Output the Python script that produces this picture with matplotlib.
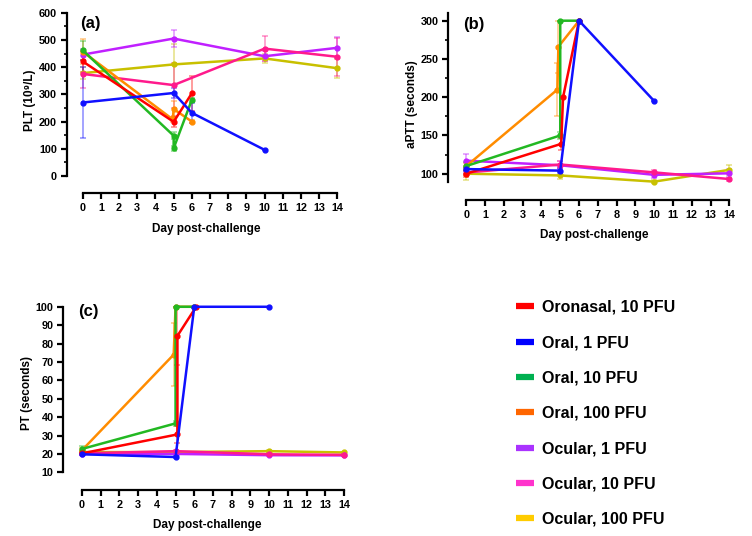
import matplotlib
matplotlib.use("Agg")
import matplotlib.pyplot as plt
from matplotlib.lines import Line2D
from matplotlib.ticker import FixedLocator

plt.rcParams['font.family'] = ['Liberation Sans', 'DejaVu Sans']
plt.rcParams['font.weight'] = 'bold'

groups = ["Oronasal, 10 PFU", "Oral, 1 PFU", "Oral, 10 PFU", "Oral, 100 PFU",
          "Ocular, 1 PFU", "Ocular, 10 PFU", "Ocular, 100 PFU"]
line_colors = ["#ff0000", "#1010ff", "#22b822", "#ff8c00", "#c020ff", "#ff1a8c", "#c8c000"]
legend_colors = ["#ff0000", "#0000ff", "#00b050", "#ff6600", "#aa33ff", "#ff33cc", "#ffcc00"]

# Panel (a) PLT (10^9/L)
plt_x = [[0, 5, 6], [0, 5, 6, 10], [0, 5, 5, 6], [0, 4.95, 5, 6],
         [0, 5, 10, 14], [0, 5, 10, 14], [0, 5, 10, 14]]
plt_y = [[421, 199, 304], [270, 305, 232, 96], [462, 148, 102, 280], [457, 208, 246, 200],
         [446, 505, 440, 471], [375, 334, 468, 438], [378, 410, 432, 396]]
plt_err = [[40, 20, 65], [130, 20, 38, 0], [35, 12, 10, 8], [45, 10, 30, 5],
           [20, 30, 18, 38], [53, 83, 45, 70], [22, 75, 15, 35]]

# Panel (b) aPTT (seconds)
aptt_x = [[0, 5.05, 5.15, 6], [0, 5, 6, 10], [0, 5, 5, 6], [0, 4.85, 4.9, 6],
          [0, 5, 10, 14], [0, 5, 10, 14], [0, 5, 10, 14]]
aptt_y = [[100, 139, 200, 300], [106, 104, 300, 195], [110, 150, 300, 300], [110, 210, 266, 300],
          [117, 111, 98.5, 100.5], [101.5, 112, 101.7, 93], [100, 97.7, 89.6, 105]]
aptt_err = [[4, 8, 0, 0], [3, 3, 0, 0], [5, 5, 0, 0], [4, 35, 34, 0],
            [9, 5, 4, 5], [3, 4, 3, 2], [8, 4, 2, 7]]

# Panel (c) PT (seconds)
pt_x = [[0, 5.1, 5.1, 6.1], [0, 5, 6, 10], [0, 5, 5, 6], [0, 4.9, 5, 6],
        [0, 5, 10, 14], [0, 5, 10, 14], [0, 5, 10, 14]]
pt_y = [[20.3, 30.6, 84.2, 100], [19.8, 18.3, 100, 100], [22.7, 36.6, 100, 100], [22, 74, 100, 100],
        [20, 20, 19.3, 19.2], [20.3, 21.5, 19.8, 19.5], [21, 21, 21.5, 20.8]]
pt_err = [[0.5, 4.5, 16, 0], [0.5, 0.5, 0, 0], [1.5, 1.5, 0, 0], [1, 17, 0, 0],
          [0.5, 0.5, 0.5, 0.5], [0.5, 0.5, 0.5, 0.5], [0.5, 0.5, 0.8, 0.5]]

day_ticks = list(range(0, 15))
plt_ticks = list(range(0, 601, 100))
plt_minor = list(range(50, 600, 100))
aptt_ticks = list(range(100, 301, 50))
aptt_minor = list(range(125, 300, 50))
pt_ticks = list(range(10, 101, 10))
draw_order = [6, 4, 5, 3, 2, 0, 1]

W, H = 752, 536
fig = plt.figure(figsize=(W / 100, H / 100), dpi=100)


def make_axes(left, right, top, bottom):
    return fig.add_axes([left / W, 1 - bottom / H, (right - left) / W, (bottom - top) / H])


def style(ax, xlim, ylim, ybounds, yticks, yminor, ylabel, panel):
    ax.set_xlim(*xlim)
    ax.set_ylim(*ylim)
    for s in ['top', 'right']:
        ax.spines[s].set_visible(False)
    for s in ['left', 'bottom']:
        ax.spines[s].set_linewidth(1.6)
    ax.spines['left'].set_bounds(*ybounds)
    ax.spines['bottom'].set_bounds(0, 14)
    ax.set_xticks(day_ticks)
    ax.set_yticks(yticks)
    ax.yaxis.set_minor_locator(FixedLocator(yminor))
    ax.tick_params(axis='both', which='major', length=4.5, width=1.6, labelsize=7.8, pad=2.5)
    ax.tick_params(axis='y', which='minor', length=2.5, width=1.2)
    ax.tick_params(axis='x', which='minor', bottom=False)
    ax.set_xlabel("Day post-challenge", fontsize=8.5, fontweight='bold', labelpad=7)
    ax.set_ylabel(ylabel, fontsize=8.5, fontweight='bold', labelpad=2)
    for lab in ax.get_xticklabels() + ax.get_yticklabels():
        lab.set_fontweight('bold')
    ax.text(0.05, 0.955, panel, transform=ax.transAxes, fontsize=12, fontweight='bold',
            va='top', ha='left')


def draw(ax, xs, ys, es):
    for i in draw_order:
        c = line_colors[i]
        ax.errorbar(xs[i], ys[i], yerr=es[i], fmt='none', ecolor=c, alpha=0.45,
                    elinewidth=1.2, capsize=2, capthick=1.2, zorder=2)
        ax.plot(xs[i], ys[i], color=c, lw=1.8, marker='o', ms=3.5, zorder=3)


# Panel (a)
axa = make_axes(66.7, 345, 8, 193.3)
draw(axa, plt_x, plt_y, plt_err)
style(axa, (-0.88, 14.42), (-63.6, 617.3), (0, 600), plt_ticks, plt_minor,
      "PLT (10\u2079/L)", "(a)")

# Panel (b)
axb = make_axes(448.3, 740, 8, 200)
draw(axb, aptt_x, aptt_y, aptt_err)
style(axb, (-0.96, 14.57), (65.6, 316.6), (88.7, 310.4), aptt_ticks, aptt_minor,
      "aPTT (seconds)", "(b)")

# Panel (c)
axc = make_axes(63.3, 352, 295, 490)
draw(axc, pt_x, pt_y, pt_err)
style(axc, (-1.0, 14.43), (0.38, 106.4), (10, 100), pt_ticks, [],
      "PT (seconds)", "(c)")

handles = [Line2D([0], [0], color=c, lw=4.5, solid_capstyle='butt') for c in legend_colors]
fig.legend(handles, groups, loc='upper left', bbox_to_anchor=(516 / W, 1 - 300 / H),
           frameon=False, prop={'weight': 'bold', 'size': 11.5},
           handlelength=1.1, handletextpad=0.55, labelspacing=1.27, borderpad=0,
           borderaxespad=0)

fig.savefig("out.png", dpi=100)
